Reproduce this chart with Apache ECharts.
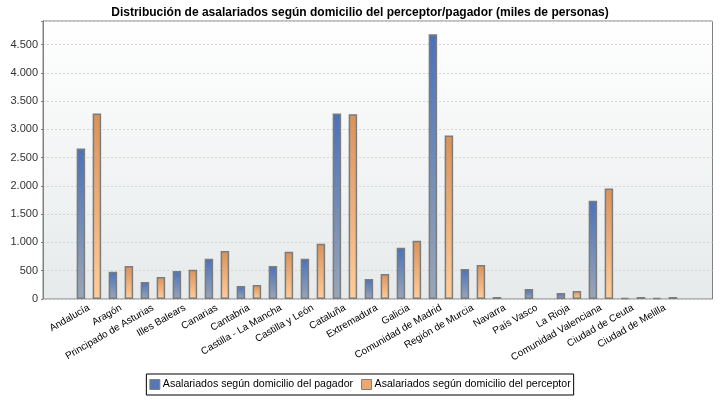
<!DOCTYPE html>
<html>
<head>
<meta charset="utf-8">
<script src="https://cdn.jsdelivr.net/npm/echarts@6/dist/echarts.min.js"></script>
<style>html,body{margin:0;padding:0;background:#fff}#c{width:720px;height:400px}</style>
</head>
<body>
<div id="c"></div>
<script>
var categories = ['Andalucía','Aragón','Principado de Asturias','Illes Balears','Canarias','Cantabria','Castilla - La Mancha','Castilla y León','Cataluña','Extremadura','Galicia','Comunidad de Madrid','Región de Murcia','Navarra','País Vasco','La Rioja','Comunidad Valenciana','Ciudad de Ceuta','Ciudad de Melilla'];
var pagador = [2660, 480, 300, 495, 710, 230, 585, 710, 3280, 355, 905, 4681, 530, 35, 177, 106, 1739, 18, 20];
var perceptor = [3280, 585, 390, 515, 850, 248, 834, 975, 3265, 444, 1029, 2892, 603, null, null, 142, 1952, 35, 35];
var seriesNames = ['Asalariados según domicilio del pagador','Asalariados según domicilio del perceptor'];
var yMax = 4915;

function fmt(v){ return String(v).replace(/\B(?=(\d{3})+(?!\d))/g, '.'); }
function grad(top, bottom){
  return new echarts.graphic.LinearGradient(0,0,0,1,[{offset:0,color:top},{offset:1,color:bottom}]);
}
var chart = echarts.init(document.getElementById('c'));
chart.setOption({
  animation:false,
  title:{text:'Distribución de asalariados según domicilio del perceptor/pagador (miles de personas)',
    left:'center', top:2,
    textStyle:{fontFamily:'Liberation Sans, sans-serif', fontWeight:'bold', fontSize:12, color:'#000'}},
  legend:{
    icon:'rect',
    data:[{name:seriesNames[0], itemStyle:{color:'#5577b5', borderColor:'#808080', borderWidth:1}},
          {name:seriesNames[1], itemStyle:{color:'#eaa872', borderColor:'#808080', borderWidth:1}}],
    left:'center', top:374, itemWidth:10, itemHeight:10, itemGap:8,
    borderColor:'#000', borderWidth:1, padding:[5,3,5,3], borderRadius:0,
    textStyle:{fontFamily:'Liberation Sans, sans-serif', fontSize:10.6, color:'#000', padding:[0,0,0,-2]}
  },
  grid:[
    {left:43, top:21, right:7.5, bottom:101, show:true, borderColor:'#808080', borderWidth:1,
     backgroundColor: grad('#ffffff','#e6eaeb')},
    {left:72.9, top:21, right:39.1, bottom:101}
  ],
  xAxis:[
    {gridIndex:0, type:'value', show:false, min:0, max:1},
    {gridIndex:1, type:'category', data:categories, boundaryGap:true,
     axisLine:{show:false}, axisTick:{show:false},
     axisLabel:{interval:0, rotate:30, margin:8, fontFamily:'Liberation Sans, sans-serif', fontSize:10, color:'#000'}}
  ],
  yAxis:[
    {gridIndex:0, type:'value', min:0, max:yMax, interval:500,
     axisLine:{show:true, lineStyle:{color:'#808080'}},
     axisTick:{show:true, length:2, lineStyle:{color:'#808080'}},
     axisLabel:{formatter:function(v){return v>4500?'':fmt(v);}, fontFamily:'Liberation Sans, sans-serif', fontSize:11, color:'#333', margin:5},
     splitLine:{show:true, lineStyle:{color:'#d4d6d6', type:[2,2], width:1}}},
    {gridIndex:1, type:'value', min:0, max:yMax, show:false, splitLine:{show:false}}
  ],
  series:[
    {name:seriesNames[0], type:'bar', xAxisIndex:1, yAxisIndex:1, data:pagador, barWidth:8.5, barGap:'88.2%',
     itemStyle:{color:grad('#4a72b9','#9aa6b8'), borderColor:'#7c7c7c', borderWidth:1.5}},
    {name:seriesNames[1], type:'bar', xAxisIndex:1, yAxisIndex:1, data:perceptor, barWidth:8.5, barGap:'88.2%',
     itemStyle:{color:grad('#d9935c','#ffcd9a'), borderColor:'#7c7c7c', borderWidth:1.5}}
  ]
});
</script>
</body>
</html>
